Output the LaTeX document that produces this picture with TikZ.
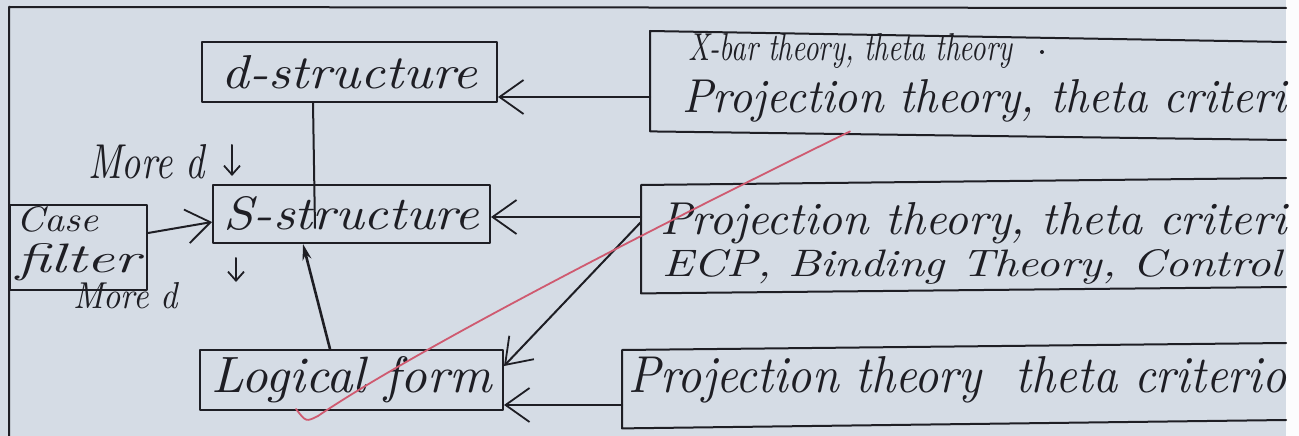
\documentclass[tikz,border=0pt]{standalone}
\usetikzlibrary{arrows.meta}
\definecolor{paper}{HTML}{D5DCE5}
\definecolor{ink}{HTML}{1E1E24}
\definecolor{redink}{HTML}{CF5A70}
% handwritten-looking text stretched to a given width and height (in pt)
\newcommand\hand[3]{\resizebox{#1pt}{#2pt}{\itshape #3}}

\begin{document}
\begin{tikzpicture}[x=1pt,y=-1pt,
  inkline/.style={draw=ink,line width=2pt,line cap=round,line join=round},
  box/.style={inkline,rectangle,inner sep=0pt,text=ink},
  txt/.style={anchor=base west,inner sep=0pt,text=ink},
  barb/.style={inkline,-{Straight Barb[length=24pt,width=34pt,line width=1.8pt]}},
  smallbarb/.style={inkline,-{Straight Barb[length=9pt,width=16pt,line width=1.8pt]}},
  redline/.style={draw=redink,line width=1.8pt,line cap=round}
]
\useasboundingbox (0,0) rectangle (1299,436);
\fill[paper] (0,0) rectangle (1299,436);
\fill[white!92!paper] (1286,0) rectangle (1299,436);

% page frame
\draw[inkline] (9,436) -- (9,7) -- (1286,8);

% left column of levels
\node[box,minimum width=295pt,minimum height=60pt] (dstr) at (349.5,72) {\hand{255}{33}{d-structure}};
\node[box,minimum width=277pt,minimum height=58pt] (sstr) at (351.5,214) {\hand{255}{33}{S-structure}};
\node[box,minimum width=303pt,minimum height=60pt] (lf) at (351.5,380) {\hand{280}{36}{Logical form}};
\node[box,minimum width=137pt,minimum height=85pt] (case) at (78.5,247.5) {};
\node[txt] (case1) at (16,231) {\hand{82}{25}{Case}};
\node[txt] (case2) at (16,272) {\hand{124}{29}{filter}};

% movement labels
\node[txt] (mv1) at (88,178) {\hand{117}{34}{More d}};
\coordinate (mv1a) at (232,145);
\coordinate (mv1b) at (232,176);
\node[txt] (mv2) at (73,308) {\hand{105}{26}{More d}};
\coordinate (mv2a) at (236,258);
\coordinate (mv2b) at (236,282);

% right column: boxes open towards the page edge
\node[inner sep=0pt,minimum width=636pt,minimum height=100pt,anchor=north west] (xbar) at (650,31) {};
\draw[inkline] (1286,42) -- (xbar.north west) -- (xbar.south west) -- (1286,140);
\node[txt] (xbar1) at (688,60) {\hand{324}{27}{X-bar theory, theta theory}};
\fill[ink] (1042,52) circle (2pt);
\node[txt] (xbar2) at (682,113) {\hand{604}{33}{Projection theory, theta criteri}};

\node[inner sep=0pt,minimum width=645pt,minimum height=108pt,anchor=north west] (ecp) at (641,185) {};
\draw[inkline] (1286,178) -- (ecp.north west) -- (ecp.south west) -- (1286,287);
\node[txt] (ecp1) at (660,234) {\hand{626}{32}{Projection theory, theta criteri}};
\node[txt] (ecp2) at (662,276) {\hand{620}{27}{ECP, Binding Theory, Control}};

\node[inner sep=0pt,minimum width=664pt,minimum height=78pt,anchor=north west] (proj) at (622,350) {};
\draw[inkline] (1286,343) -- (proj.north west) -- (proj.south west) -- (1286,420);
\node[txt] (proj1) at (628,392) {\hand{658}{36}{Projection theory\ \ theta criterio}};

% connectors
\draw[barb] (xbar.west |- 0,97) -- (dstr.east |- 0,97);
\coordinate (dmid) at (315,228);
\draw[inkline] (dstr.south -| 313,0) -- (dmid);
\draw[smallbarb] (mv1a) -- (mv1b);
\draw[smallbarb] (mv2a) -- (mv2b);
\draw[barb] (case.east |- 0,233) -- (sstr.west |- 0,222);
\draw[barb] (ecp.west |- 0,217) -- (sstr.east |- 0,217);
\draw[inkline,line width=2.6pt,-{Stealth[length=16pt,width=9pt]}] (lf.north -| 330,0) -- (sstr.south -| 303,0);
\draw[barb] (ecp.west |- 0,222) -- (lf.east |- 0,366);
\draw[barb] (proj.west |- 0,405) -- (lf.east |- 0,405);

% red stroke across the page
\coordinate (redend) at (296,409);
\draw[redline] (xbar.south -| 850,0) .. controls (720,195) and (430,340) .. (318,416) .. controls (306,422) .. (redend);
\end{tikzpicture}
\end{document}
